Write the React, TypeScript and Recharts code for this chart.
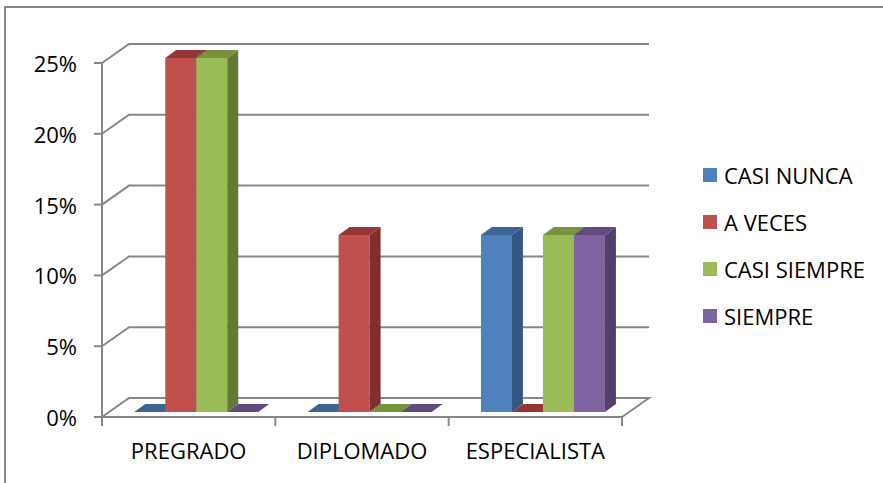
import React from 'react';
import { BarChart, Bar, XAxis, YAxis, CartesianGrid, Legend } from 'recharts';

const categories = ['PREGRADO', 'DIPLOMADO', 'ESPECIALISTA'];
const casiNunca = [0, 0, 0.125];
const aVeces = [0.25, 0.125, 0];
const casiSiempre = [0.25, 0, 0.125];
const siempre = [0, 0, 0.125];
const yTicks = [0, 0.05, 0.1, 0.15, 0.2, 0.25];

const series = [
  { key: 'casiNunca', name: 'CASI NUNCA', values: casiNunca, front: '#4F81BD', side: '#35577F', top: '#3D6593' },
  { key: 'aVeces', name: 'A VECES', values: aVeces, front: '#C0504D', side: '#7F302E', top: '#953735' },
  { key: 'casiSiempre', name: 'CASI SIEMPRE', values: casiSiempre, front: '#9BBB59', side: '#637A37', top: '#77933C' },
  { key: 'siempre', name: 'SIEMPRE', values: siempre, front: '#8064A2', side: '#533F6E', top: '#614B7E' },
];

const data = categories.map((name, i) => {
  const row: Record<string, string | number> = { name };
  series.forEach((s) => { row[s.key] = s.values[i]; });
  return row;
});

const W = 883;
const H = 483;
const MARGIN = { top: 63, right: 261, bottom: 0, left: 0 };
const X_AXIS_H = 66;
const Y_AXIS_W = 102;
const PLOT_W = W - MARGIN.right - Y_AXIS_W;
const BAND = PLOT_W / categories.length;

// depth of the back wall and of each box
const WALL_DX = 27;
const WALL_DY = -19;
const BOX_DX = 11;
const BOX_DY = -8;
// boxes sit a little behind the front edge of the floor
const BOX_SHIFT_X = 8;
const BOX_SHIFT_Y = -5;

const LINE = '#878787';
const FONT = '"Open Sans", "Noto Sans", sans-serif';

const Box3D = (props: any) => {
  const { x, y, width, height, colors } = props;
  const fx = x + BOX_SHIFT_X;
  const fy = y + BOX_SHIFT_Y;
  const top = `M${fx},${fy} L${fx + BOX_DX},${fy + BOX_DY} L${fx + width + BOX_DX},${fy + BOX_DY} L${fx + width},${fy} Z`;
  if (!height || height <= 0) {
    return <path d={top} fill={colors.top} />;
  }
  const side = `M${fx + width},${fy} L${fx + width + BOX_DX},${fy + BOX_DY} L${fx + width + BOX_DX},${fy + height + BOX_DY} L${fx + width},${fy + height} Z`;
  return (
    <g>
      <rect x={fx} y={fy} width={width} height={height} fill={colors.front} />
      <path d={side} fill={colors.side} />
      <path d={top} fill={colors.top} />
    </g>
  );
};

const gridLine = (props: any) => {
  const { x1, y1, x2, y, height } = props;
  const isFloor = Math.abs(y1 - (y + height)) < 1;
  let d = `M${x1},${y1} L${x1 + WALL_DX},${y1 + WALL_DY} L${x2 + WALL_DX},${y1 + WALL_DY}`;
  if (isFloor) d += ` L${x2},${y1}`;
  return <path key={props.key} d={d} fill="none" stroke={LINE} strokeWidth={2} />;
};

const XTick = (props: any) => {
  const { x, y, payload, index } = props;
  const left = x - BAND / 2;
  return (
    <g>
      <line x1={left} y1={y} x2={left} y2={y + 9} stroke={LINE} strokeWidth={2} />
      {index === categories.length - 1 && (
        <line x1={left + BAND} y1={y} x2={left + BAND} y2={y + 9} stroke={LINE} strokeWidth={2} />
      )}
      <text x={x} y={y + 42} textAnchor="middle" fontFamily={FONT} fontSize={22} fill="#000">
        {payload.value}
      </text>
    </g>
  );
};

const YTick = (props: any) => {
  const { x, y, payload } = props;
  return (
    <text x={x - 17} y={y + 9} textAnchor="end" fontFamily={FONT} fontSize={22} fill="#000">
      {`${Math.round(payload.value * 100)}%`}
    </text>
  );
};

const LegendList = () => (
  <div style={{ fontFamily: FONT, fontSize: 22, color: '#000' }}>
    {series.map((s) => (
      <div key={s.key} style={{ display: 'flex', alignItems: 'center', height: 47 }}>
        <span style={{ width: 14, height: 14, background: s.front, marginRight: 7, display: 'inline-block' }} />
        <span style={{ lineHeight: '22px' }}>{s.name}</span>
      </div>
    ))}
  </div>
);

const App: React.FC = () => {
  return (
    <div style={{ position: 'absolute', left: 0, top: 0, width: W, height: H, background: '#fff', overflow: 'hidden' }}>
      <div
        style={{
          position: 'absolute',
          left: 4,
          top: 6,
          width: W,
          height: H,
          borderLeft: `2px solid ${LINE}`,
          borderTop: `2px solid ${LINE}`,
        }}
      />
      <BarChart width={W} height={H} data={data} margin={MARGIN} barCategoryGap="14%" barGap={0}>
        <CartesianGrid vertical={false} horizontal={gridLine} />
        <XAxis
          dataKey="name"
          height={X_AXIS_H}
          axisLine={{ stroke: LINE, strokeWidth: 2 }}
          tickLine={false}
          tickSize={0}
          tickMargin={0}
          tick={<XTick />}
          interval={0}
        />
        <YAxis
          width={Y_AXIS_W}
          domain={[0, 0.25]}
          ticks={yTicks}
          axisLine={{ stroke: LINE, strokeWidth: 2 }}
          tickLine={{ stroke: LINE, strokeWidth: 2 }}
          tickSize={8}
          tickMargin={0}
          tick={<YTick />}
        />
        <Legend
          layout="vertical"
          align="center"
          verticalAlign="middle"
          wrapperStyle={{ left: 703, top: 151, width: 180 }}
          content={<LegendList />}
        />
        {series.map((s) => (
          <Bar
            key={s.key}
            dataKey={s.key}
            name={s.name}
            fill={s.front}
            isAnimationActive={false}
            shape={(p: any) => <Box3D {...p} colors={s} />}
          />
        ))}
      </BarChart>
    </div>
  );
};

export default App;
